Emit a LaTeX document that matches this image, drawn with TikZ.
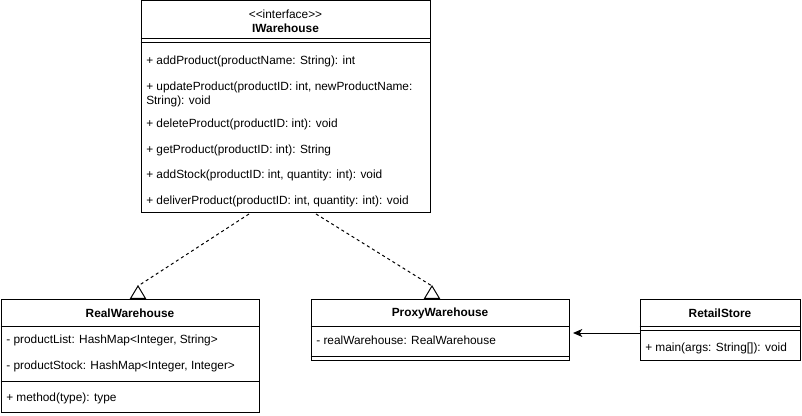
\documentclass[tikz,border=0pt]{standalone}
\usepackage{fontspec}
\setmainfont{Liberation Sans}
\usetikzlibrary{fit,arrows.meta}
\begin{document}
\begin{tikzpicture}[x=0.75pt,y=-0.75pt,
  box/.style={draw=black,line width=0.75pt,inner sep=0pt,fill=white},
  txt/.style={inner sep=0pt,anchor=west,font=\fontsize{8.9}{10}\selectfont,align=left},
  ttl/.style={inner sep=0pt,font=\bfseries\fontsize{8.9}{10}\selectfont},
  sep/.style={line width=0.75pt},
  real/.style={line width=0.75pt,dash pattern=on 2.25pt off 2.25pt},
  tri/.style={line width=0.75pt,fill=white,line join=miter}]
\useasboundingbox (0,0) rectangle (802,416);
% IWarehouse
\node[box,fit={(141,1) (430,213)}] (iw) {};
\node[inner sep=0pt,font=\fontsize{8.9}{10}\selectfont] (iwst) at (285.5,14) {<{}<interface>{}>};
\node[ttl] (iwname) at (285.5,28) {IWarehouse};
\draw[sep] (iw.west |- 0,39) -- (iw.east |- 0,39);
\draw[sep] (iw.west |- 0,43) -- (iw.east |- 0,43);
\node[txt] (m1) at (146,61) {+ addProduct(productName: String): int};
\node[txt] (m2) at (146,94.5) {+ updateProduct(productID: int, newProductName:\\String): void};
\node[txt] (m3) at (146,124) {+ deleteProduct(productID: int): void};
\node[txt] (m4) at (146,150) {+ getProduct(productID: int): String};
\node[txt] (m5) at (146,175) {+ addStock(productID: int, quantity: int): void};
\node[txt] (m6) at (146,201) {+ deliverProduct(productID: int, quantity: int): void};
% RealWarehouse
\node[box,fit={(1,300) (259,412)}] (rw) {};
\node[ttl] (rwname) at (130,313) {RealWarehouse};
\draw[sep] (rw.west |- 0,326) -- (rw.east |- 0,326);
\node[txt] (a1) at (6,340) {- productList: HashMap<Integer, String>};
\node[txt] (a2) at (6,366) {- productStock: HashMap<Integer, Integer>};
\draw[sep] (rw.west |- 0,381) -- (rw.east |- 0,381);
\node[txt] (a3) at (6,398) {+ method(type): type};
% ProxyWarehouse
\node[box,fit={(311,300) (569,360)}] (pw) {};
\node[ttl] (pwname) at (440,313) {ProxyWarehouse};
\draw[sep] (pw.west |- 0,326) -- (pw.east |- 0,326);
\node[txt] (p1) at (316,340) {- realWarehouse: RealWarehouse};
\draw[sep] (pw.west |- 0,356) -- (pw.east |- 0,356);
% RetailStore
\node[box,fit={(640,300) (800,360)}] (rs) {};
\node[ttl] (rsname) at (720,313) {RetailStore};
\draw[sep] (rs.west |- 0,326) -- (rs.east |- 0,326);
\draw[sep] (rs.west |- 0,330) -- (rs.east |- 0,330);
\node[txt] (r1) at (645,348) {+ main(args: String[]): void};
% realization connectors
\coordinate (iwL) at (249,214);
\coordinate (iwR) at (316,214);
\coordinate (rwTip) at (138,286);
\coordinate (pwTip) at (432,286);
\draw[real] (iwL) -- (rwTip);
\draw[real] (iwR) -- (pwTip);
\draw[tri] (rwTip) -- (130.5,298.5) -- (145.5,298.5) -- cycle;
\draw[tri] (pwTip) -- (424.5,298.5) -- (439.5,298.5) -- cycle;
% association
\coordinate (arrEnd) at (573,333);
\draw[line width=0.75pt,-{Stealth[length=7pt,width=6pt,inset=2pt]}] (rs.west |- arrEnd) -- (arrEnd);
\end{tikzpicture}
\end{document}
